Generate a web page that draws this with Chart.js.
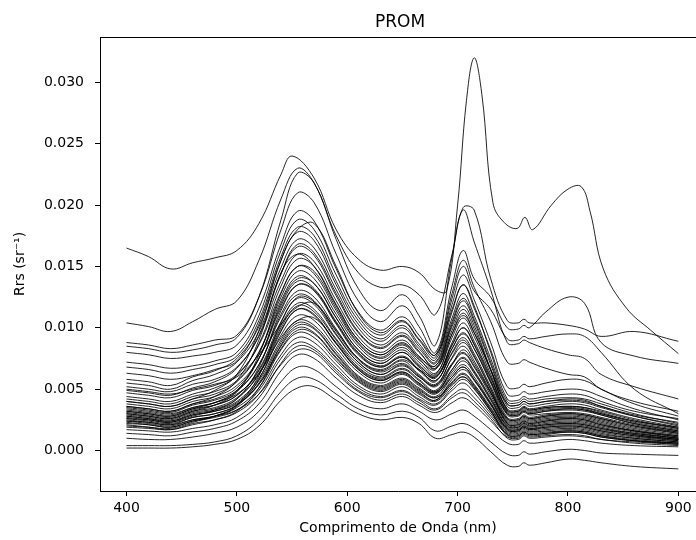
<!DOCTYPE html>
<html>
<head>
<meta charset="utf-8">
<title>PROM</title>
<script src="https://cdn.jsdelivr.net/npm/chart.js@4.4.1/dist/chart.umd.min.js"></script>
<style>
  html, body { margin: 0; padding: 0; background: #fff; overflow: hidden; }
  #wrap { width: 696px; height: 540px; }
</style>
</head>
<body>
<div id="wrap"><canvas id="rrsChart" width="696" height="540"></canvas></div>
<script>
// wavelengths (nm) shared by most spectra
const wave = [400, 420, 440, 460, 480, 500, 520, 540, 555, 570, 590, 610, 630, 650, 665, 680, 695, 705, 715, 730, 745, 755, 760, 765, 780, 800, 815, 830, 860, 900];
// finer grid for the spectrum with the big red-edge peak
const waveA = [400, 420, 440, 460, 480, 500, 520, 540, 550, 570, 590, 610, 630, 650, 665, 680, 690, 700, 708, 715, 722, 732, 742, 754, 761, 768, 785, 800, 812, 820, 832, 853, 875, 900];

const xTicks = [400, 500, 600, 700, 800, 900];
const yTicks = [0.000, 0.005, 0.010, 0.015, 0.020, 0.025, 0.030];

// Rrs spectra (sr^-1)
const rrsA = [0.0165, 0.0158, 0.0148, 0.0153, 0.0157, 0.0163, 0.0185, 0.0225, 0.0240, 0.0222, 0.0180, 0.0156, 0.0147, 0.0150, 0.0145, 0.0131, 0.0130, 0.0200, 0.0285, 0.0320, 0.0290, 0.0202, 0.0186, 0.0181, 0.0190, 0.0180, 0.0200, 0.0213, 0.0215, 0.0195, 0.0148, 0.0116, 0.0098, 0.0079];
const rrsB = [0.0104, 0.0101, 0.0097, 0.0105, 0.0115, 0.0122, 0.0155, 0.0205, 0.0230, 0.0218, 0.0175, 0.0145, 0.0133, 0.0135, 0.0127, 0.0111, 0.0160, 0.0198, 0.0196, 0.0140, 0.0106, 0.0104, 0.0107, 0.0104, 0.0104, 0.0102, 0.0099, 0.0093, 0.0097, 0.0089];
const rrsC = [0.0088, 0.0086, 0.0083, 0.0086, 0.0090, 0.0094, 0.0125, 0.0180, 0.0210, 0.0202, 0.0160, 0.0122, 0.0105, 0.0118, 0.0101, 0.0080, 0.0134, 0.0163, 0.0140, 0.0125, 0.0100, 0.0099, 0.0102, 0.0100, 0.0113, 0.0125, 0.0120, 0.0088, 0.0077, 0.0071];
const rrsD = [0.0085, 0.0083, 0.0080, 0.0082, 0.0086, 0.0092, 0.0125, 0.0188, 0.0226, 0.0218, 0.0172, 0.0132, 0.0114, 0.0127, 0.0110, 0.0086, 0.0158, 0.0196, 0.0170, 0.0131, 0.0088, 0.0087, 0.0090, 0.0088, 0.0083, 0.0078, 0.0075, 0.0062, 0.0052, 0.0042];
const rrsE = [0.0080, 0.0078, 0.0075, 0.0077, 0.0080, 0.0086, 0.0116, 0.0168, 0.0195, 0.0187, 0.0148, 0.0113, 0.0098, 0.0109, 0.0094, 0.0078, 0.0128, 0.0155, 0.0133, 0.0105, 0.0072, 0.0071, 0.0074, 0.0072, 0.0067, 0.0062, 0.0060, 0.0050, 0.0040, 0.0032];
const rrsF = [0.0072, 0.0070, 0.0067, 0.0069, 0.0073, 0.0080, 0.0110, 0.0163, 0.0188, 0.0180, 0.0143, 0.0109, 0.0094, 0.0105, 0.0090, 0.0076, 0.0124, 0.0150, 0.0130, 0.0115, 0.0091, 0.0090, 0.0093, 0.0091, 0.0093, 0.0095, 0.0093, 0.0080, 0.0050, 0.0030];
const rrsG = [0.0068, 0.0066, 0.0063, 0.0066, 0.0070, 0.0077, 0.0106, 0.0158, 0.0182, 0.0175, 0.0138, 0.0106, 0.0091, 0.0102, 0.0087, 0.0074, 0.0119, 0.0143, 0.0123, 0.0088, 0.0052, 0.0051, 0.0054, 0.0052, 0.0055, 0.0058, 0.0057, 0.0050, 0.0038, 0.0028];
const rrsH = [0.0063, 0.0061, 0.0058, 0.0061, 0.0066, 0.0073, 0.0103, 0.0155, 0.0178, 0.0171, 0.0135, 0.0103, 0.0089, 0.0100, 0.0085, 0.0072, 0.0113, 0.0135, 0.0116, 0.0082, 0.0046, 0.0045, 0.0048, 0.0046, 0.0048, 0.0050, 0.0049, 0.0044, 0.0034, 0.0025];
const rrsI1 = [0.0058, 0.0056, 0.0053, 0.0060, 0.0065, 0.0075, 0.0101, 0.0149, 0.0172, 0.0165, 0.0131, 0.0100, 0.0086, 0.0096, 0.0083, 0.0071, 0.0108, 0.0128, 0.0110, 0.0075, 0.0040, 0.0039, 0.0042, 0.0040, 0.0042, 0.0043, 0.0042, 0.0038, 0.0030, 0.0022];
const rrsI2 = [0.0055, 0.0053, 0.0050, 0.0057, 0.0062, 0.0072, 0.0097, 0.0144, 0.0166, 0.0159, 0.0126, 0.0096, 0.0083, 0.0093, 0.0080, 0.0069, 0.0105, 0.0124, 0.0107, 0.0072, 0.0038, 0.0037, 0.0040, 0.0038, 0.0040, 0.0041, 0.0040, 0.0036, 0.0028, 0.0020];
const rrsI3 = [0.0052, 0.0050, 0.0048, 0.0054, 0.0058, 0.0068, 0.0093, 0.0138, 0.0160, 0.0154, 0.0122, 0.0093, 0.0080, 0.0090, 0.0077, 0.0067, 0.0103, 0.0122, 0.0105, 0.0070, 0.0036, 0.0035, 0.0038, 0.0036, 0.0038, 0.0040, 0.0039, 0.0035, 0.0028, 0.0021];
const rrsI4 = [0.0049, 0.0047, 0.0045, 0.0051, 0.0056, 0.0067, 0.0094, 0.0144, 0.0168, 0.0161, 0.0128, 0.0097, 0.0084, 0.0094, 0.0081, 0.0067, 0.0098, 0.0115, 0.0099, 0.0066, 0.0034, 0.0033, 0.0036, 0.0034, 0.0036, 0.0038, 0.0037, 0.0033, 0.0026, 0.0019];
const rrsI5 = [0.0047, 0.0045, 0.0043, 0.0049, 0.0053, 0.0062, 0.0086, 0.0129, 0.0150, 0.0144, 0.0114, 0.0087, 0.0075, 0.0084, 0.0072, 0.0062, 0.0095, 0.0112, 0.0096, 0.0065, 0.0033, 0.0032, 0.0035, 0.0033, 0.0035, 0.0036, 0.0035, 0.0032, 0.0025, 0.0018];
const rrsI6 = [0.0044, 0.0042, 0.0040, 0.0046, 0.0051, 0.0061, 0.0087, 0.0134, 0.0156, 0.0150, 0.0119, 0.0090, 0.0078, 0.0087, 0.0075, 0.0063, 0.0092, 0.0108, 0.0093, 0.0062, 0.0031, 0.0030, 0.0033, 0.0031, 0.0033, 0.0034, 0.0033, 0.0030, 0.0023, 0.0017];
const rrsI7 = [0.0042, 0.0040, 0.0038, 0.0044, 0.0048, 0.0057, 0.0080, 0.0122, 0.0142, 0.0136, 0.0108, 0.0082, 0.0071, 0.0080, 0.0068, 0.0059, 0.0088, 0.0104, 0.0089, 0.0060, 0.0030, 0.0029, 0.0032, 0.0030, 0.0032, 0.0033, 0.0032, 0.0029, 0.0022, 0.0016];
const rrsI8 = [0.0040, 0.0038, 0.0036, 0.0042, 0.0046, 0.0056, 0.0080, 0.0125, 0.0146, 0.0140, 0.0111, 0.0085, 0.0073, 0.0082, 0.0070, 0.0060, 0.0086, 0.0100, 0.0086, 0.0057, 0.0029, 0.0028, 0.0031, 0.0029, 0.0030, 0.0031, 0.0030, 0.0027, 0.0021, 0.0015];
const rrsI9 = [0.0038, 0.0036, 0.0034, 0.0040, 0.0044, 0.0053, 0.0075, 0.0116, 0.0135, 0.0130, 0.0103, 0.0078, 0.0068, 0.0076, 0.0065, 0.0056, 0.0083, 0.0096, 0.0083, 0.0055, 0.0027, 0.0026, 0.0029, 0.0027, 0.0029, 0.0030, 0.0029, 0.0026, 0.0020, 0.0014];
const rrsI10 = [0.0036, 0.0034, 0.0032, 0.0038, 0.0042, 0.0051, 0.0075, 0.0118, 0.0138, 0.0132, 0.0105, 0.0080, 0.0069, 0.0077, 0.0066, 0.0057, 0.0080, 0.0092, 0.0079, 0.0052, 0.0026, 0.0025, 0.0028, 0.0026, 0.0028, 0.0029, 0.0028, 0.0025, 0.0019, 0.0014];
const rrsI11 = [0.0035, 0.0033, 0.0031, 0.0037, 0.0041, 0.0049, 0.0070, 0.0109, 0.0127, 0.0122, 0.0097, 0.0074, 0.0064, 0.0071, 0.0061, 0.0053, 0.0076, 0.0088, 0.0076, 0.0050, 0.0025, 0.0024, 0.0027, 0.0025, 0.0027, 0.0028, 0.0027, 0.0024, 0.0018, 0.0013];
const rrsI12 = [0.0033, 0.0031, 0.0029, 0.0035, 0.0039, 0.0048, 0.0070, 0.0111, 0.0130, 0.0125, 0.0099, 0.0075, 0.0065, 0.0073, 0.0062, 0.0054, 0.0075, 0.0085, 0.0073, 0.0048, 0.0024, 0.0023, 0.0026, 0.0024, 0.0026, 0.0027, 0.0026, 0.0023, 0.0017, 0.0012];
const rrsI13 = [0.0032, 0.0030, 0.0028, 0.0034, 0.0037, 0.0045, 0.0065, 0.0102, 0.0120, 0.0115, 0.0091, 0.0070, 0.0060, 0.0067, 0.0058, 0.0049, 0.0070, 0.0082, 0.0071, 0.0047, 0.0023, 0.0022, 0.0025, 0.0023, 0.0025, 0.0026, 0.0025, 0.0022, 0.0016, 0.0011];
const rrsI14 = [0.0031, 0.0029, 0.0027, 0.0033, 0.0037, 0.0045, 0.0066, 0.0105, 0.0124, 0.0119, 0.0094, 0.0072, 0.0062, 0.0069, 0.0060, 0.0052, 0.0070, 0.0079, 0.0068, 0.0045, 0.0022, 0.0021, 0.0024, 0.0022, 0.0024, 0.0025, 0.0024, 0.0021, 0.0016, 0.0011];
const rrsI15 = [0.0030, 0.0028, 0.0026, 0.0032, 0.0035, 0.0043, 0.0062, 0.0098, 0.0115, 0.0110, 0.0087, 0.0067, 0.0058, 0.0064, 0.0055, 0.0047, 0.0066, 0.0076, 0.0065, 0.0043, 0.0021, 0.0020, 0.0023, 0.0021, 0.0023, 0.0024, 0.0023, 0.0020, 0.0015, 0.0010];
const rrsI16 = [0.0029, 0.0027, 0.0025, 0.0031, 0.0034, 0.0042, 0.0063, 0.0100, 0.0118, 0.0113, 0.0090, 0.0068, 0.0059, 0.0066, 0.0057, 0.0048, 0.0064, 0.0073, 0.0063, 0.0041, 0.0020, 0.0019, 0.0022, 0.0020, 0.0022, 0.0023, 0.0022, 0.0019, 0.0014, 0.0010];
const rrsI17 = [0.0028, 0.0026, 0.0024, 0.0030, 0.0033, 0.0040, 0.0059, 0.0094, 0.0110, 0.0106, 0.0084, 0.0064, 0.0055, 0.0062, 0.0053, 0.0046, 0.0062, 0.0070, 0.0060, 0.0039, 0.0019, 0.0018, 0.0021, 0.0019, 0.0021, 0.0022, 0.0021, 0.0018, 0.0013, 0.0009];
const rrsI18 = [0.0027, 0.0025, 0.0023, 0.0029, 0.0032, 0.0039, 0.0057, 0.0090, 0.0106, 0.0102, 0.0081, 0.0061, 0.0053, 0.0059, 0.0051, 0.0044, 0.0060, 0.0068, 0.0058, 0.0038, 0.0018, 0.0017, 0.0020, 0.0018, 0.0020, 0.0021, 0.0020, 0.0017, 0.0013, 0.0009];
const rrsI19 = [0.0026, 0.0024, 0.0022, 0.0027, 0.0030, 0.0037, 0.0054, 0.0085, 0.0100, 0.0096, 0.0076, 0.0058, 0.0050, 0.0056, 0.0048, 0.0041, 0.0058, 0.0066, 0.0057, 0.0037, 0.0018, 0.0017, 0.0020, 0.0018, 0.0019, 0.0020, 0.0019, 0.0016, 0.0012, 0.0008];
const rrsI20 = [0.0025, 0.0023, 0.0021, 0.0027, 0.0030, 0.0037, 0.0055, 0.0088, 0.0104, 0.0100, 0.0079, 0.0060, 0.0052, 0.0058, 0.0050, 0.0043, 0.0056, 0.0063, 0.0054, 0.0035, 0.0017, 0.0016, 0.0019, 0.0017, 0.0018, 0.0019, 0.0018, 0.0015, 0.0011, 0.0008];
const rrsI21 = [0.0024, 0.0022, 0.0020, 0.0025, 0.0028, 0.0035, 0.0051, 0.0082, 0.0096, 0.0092, 0.0073, 0.0056, 0.0048, 0.0054, 0.0046, 0.0040, 0.0053, 0.0060, 0.0052, 0.0034, 0.0016, 0.0015, 0.0018, 0.0016, 0.0017, 0.0018, 0.0017, 0.0014, 0.0010, 0.0007];
const rrsI22 = [0.0023, 0.0021, 0.0019, 0.0024, 0.0027, 0.0033, 0.0049, 0.0078, 0.0092, 0.0088, 0.0070, 0.0053, 0.0046, 0.0052, 0.0044, 0.0038, 0.0051, 0.0058, 0.0050, 0.0032, 0.0015, 0.0014, 0.0017, 0.0015, 0.0016, 0.0017, 0.0016, 0.0013, 0.0010, 0.0007];
const rrsI23 = [0.0021, 0.0019, 0.0017, 0.0022, 0.0025, 0.0031, 0.0046, 0.0075, 0.0088, 0.0084, 0.0067, 0.0051, 0.0044, 0.0049, 0.0042, 0.0037, 0.0049, 0.0055, 0.0047, 0.0030, 0.0014, 0.0013, 0.0016, 0.0014, 0.0015, 0.0016, 0.0015, 0.0012, 0.0009, 0.0006];
const rrsJ1 = [0.0050, 0.0048, 0.0046, 0.0050, 0.0054, 0.0060, 0.0078, 0.0103, 0.0117, 0.0120, 0.0098, 0.0075, 0.0066, 0.0074, 0.0066, 0.0060, 0.0083, 0.0095, 0.0083, 0.0056, 0.0030, 0.0029, 0.0032, 0.0030, 0.0032, 0.0034, 0.0033, 0.0029, 0.0022, 0.0016];
const rrsJ2 = [0.0036, 0.0034, 0.0032, 0.0038, 0.0044, 0.0057, 0.0090, 0.0145, 0.0160, 0.0150, 0.0118, 0.0090, 0.0078, 0.0088, 0.0076, 0.0069, 0.0101, 0.0118, 0.0102, 0.0066, 0.0033, 0.0032, 0.0035, 0.0033, 0.0035, 0.0036, 0.0035, 0.0031, 0.0024, 0.0018];
const rrsJ3 = [0.0030, 0.0028, 0.0026, 0.0032, 0.0037, 0.0048, 0.0078, 0.0128, 0.0150, 0.0146, 0.0116, 0.0088, 0.0076, 0.0086, 0.0074, 0.0066, 0.0095, 0.0110, 0.0096, 0.0066, 0.0038, 0.0037, 0.0040, 0.0038, 0.0040, 0.0042, 0.0041, 0.0036, 0.0029, 0.0023];
const rrsJ4 = [0.0026, 0.0025, 0.0023, 0.0028, 0.0033, 0.0042, 0.0068, 0.0114, 0.0135, 0.0131, 0.0104, 0.0079, 0.0068, 0.0076, 0.0066, 0.0057, 0.0079, 0.0090, 0.0077, 0.0050, 0.0022, 0.0021, 0.0024, 0.0022, 0.0024, 0.0026, 0.0025, 0.0021, 0.0016, 0.0012];
const rrsJ5 = [0.0034, 0.0032, 0.0030, 0.0035, 0.0039, 0.0046, 0.0063, 0.0092, 0.0106, 0.0108, 0.0088, 0.0066, 0.0057, 0.0064, 0.0055, 0.0048, 0.0066, 0.0075, 0.0064, 0.0042, 0.0020, 0.0019, 0.0022, 0.0020, 0.0021, 0.0022, 0.0021, 0.0018, 0.0014, 0.0010];
const rrsJ6 = [0.0022, 0.0021, 0.0019, 0.0024, 0.0028, 0.0036, 0.0058, 0.0097, 0.0115, 0.0111, 0.0087, 0.0066, 0.0057, 0.0063, 0.0054, 0.0047, 0.0060, 0.0068, 0.0058, 0.0038, 0.0017, 0.0016, 0.0019, 0.0017, 0.0019, 0.0020, 0.0019, 0.0016, 0.0012, 0.0009];
const rrsJ7 = [0.0028, 0.0026, 0.0024, 0.0029, 0.0032, 0.0038, 0.0054, 0.0083, 0.0098, 0.0095, 0.0075, 0.0057, 0.0049, 0.0055, 0.0047, 0.0041, 0.0055, 0.0062, 0.0053, 0.0033, 0.0013, 0.0012, 0.0015, 0.0013, 0.0014, 0.0016, 0.0015, 0.0012, 0.0008, 0.0005];
const rrsJ8 = [0.0020, 0.0019, 0.0018, 0.0023, 0.0028, 0.0037, 0.0061, 0.0104, 0.0125, 0.0121, 0.0095, 0.0072, 0.0062, 0.0070, 0.0060, 0.0053, 0.0071, 0.0080, 0.0069, 0.0047, 0.0026, 0.0025, 0.0028, 0.0026, 0.0028, 0.0030, 0.0029, 0.0026, 0.0020, 0.0015];
const rrsJ9 = [0.0040, 0.0038, 0.0036, 0.0042, 0.0049, 0.0062, 0.0098, 0.0155, 0.0180, 0.0185, 0.0150, 0.0112, 0.0096, 0.0106, 0.0091, 0.0078, 0.0115, 0.0135, 0.0118, 0.0080, 0.0042, 0.0041, 0.0044, 0.0042, 0.0044, 0.0046, 0.0045, 0.0040, 0.0032, 0.0026];
const rrsJ10 = [0.0024, 0.0023, 0.0021, 0.0025, 0.0028, 0.0033, 0.0046, 0.0070, 0.0082, 0.0080, 0.0063, 0.0048, 0.0041, 0.0046, 0.0039, 0.0033, 0.0043, 0.0047, 0.0040, 0.0026, 0.0010, 0.0009, 0.0012, 0.0010, 0.0011, 0.0012, 0.0011, 0.0009, 0.0006, 0.0004];
const rrsJ11 = [0.0032, 0.0030, 0.0028, 0.0034, 0.0039, 0.0049, 0.0075, 0.0120, 0.0140, 0.0136, 0.0108, 0.0082, 0.0071, 0.0080, 0.0069, 0.0061, 0.0086, 0.0100, 0.0087, 0.0059, 0.0032, 0.0031, 0.0034, 0.0032, 0.0034, 0.0035, 0.0034, 0.0030, 0.0024, 0.0019];
const rrsJ12 = [0.0019, 0.0018, 0.0017, 0.0021, 0.0025, 0.0032, 0.0051, 0.0086, 0.0102, 0.0099, 0.0078, 0.0059, 0.0051, 0.0057, 0.0049, 0.0043, 0.0054, 0.0060, 0.0051, 0.0032, 0.0012, 0.0011, 0.0014, 0.0012, 0.0013, 0.0015, 0.0014, 0.0011, 0.0008, 0.0006];
const rrsL1 = [0.0017, 0.0016, 0.0015, 0.0018, 0.0021, 0.0027, 0.0043, 0.0071, 0.0085, 0.0082, 0.0065, 0.0049, 0.0043, 0.0048, 0.0041, 0.0034, 0.0045, 0.0050, 0.0043, 0.0028, 0.0013, 0.0012, 0.0015, 0.0013, 0.0014, 0.0015, 0.0014, 0.0011, 0.0008, 0.0006];
const rrsL2 = [0.0014, 0.0013, 0.0012, 0.0015, 0.0018, 0.0024, 0.0038, 0.0065, 0.0078, 0.0075, 0.0059, 0.0045, 0.0039, 0.0044, 0.0037, 0.0031, 0.0039, 0.0043, 0.0037, 0.0024, 0.0011, 0.0010, 0.0013, 0.0011, 0.0012, 0.0013, 0.0012, 0.0009, 0.0007, 0.0005];
const rrsL3 = [0.0010, 0.0009, 0.0009, 0.0011, 0.0014, 0.0019, 0.0032, 0.0056, 0.0068, 0.0066, 0.0052, 0.0039, 0.0034, 0.0038, 0.0032, 0.0025, 0.0030, 0.0033, 0.0028, 0.0017, 0.0006, 0.0005, 0.0008, 0.0006, 0.0007, 0.0009, 0.0008, 0.0006, 0.0004, 0.0003];
const rrsL4 = [0.0004, 0.0004, 0.0004, 0.0005, 0.0007, 0.0012, 0.0025, 0.0048, 0.0059, 0.0058, 0.0046, 0.0034, 0.0029, 0.0032, 0.0027, 0.0016, 0.0020, 0.0022, 0.0018, 0.0007, -0.0003, -0.0004, -0.0001, -0.0003, -0.0001, 0.0001, 0.0000, -0.0002, -0.0003, -0.0004];
const rrsL5 = [0.0002, 0.0002, 0.0002, 0.0003, 0.0005, 0.0009, 0.0020, 0.0041, 0.0051, 0.0052, 0.0041, 0.0030, 0.0025, 0.0027, 0.0022, 0.0010, 0.0013, 0.0015, 0.0011, -0.0001, -0.0012, -0.0013, -0.0010, -0.0012, -0.0010, -0.0007, -0.0008, -0.0010, -0.0013, -0.0015];

const curves = [
  [waveA, rrsA], [wave, rrsB], [wave, rrsC], [wave, rrsD], [wave, rrsE], [wave, rrsF], [wave, rrsG], [wave, rrsH],
  [wave, rrsI1], [wave, rrsI2], [wave, rrsI3], [wave, rrsI4], [wave, rrsI5], [wave, rrsI6], [wave, rrsI7], [wave, rrsI8],
  [wave, rrsI9], [wave, rrsI10], [wave, rrsI11], [wave, rrsI12], [wave, rrsI13], [wave, rrsI14], [wave, rrsI15], [wave, rrsI16],
  [wave, rrsI17], [wave, rrsI18], [wave, rrsI19], [wave, rrsI20], [wave, rrsI21], [wave, rrsI22], [wave, rrsI23],
  [wave, rrsJ1], [wave, rrsJ2], [wave, rrsJ3], [wave, rrsJ4], [wave, rrsJ5], [wave, rrsJ6], [wave, rrsJ7], [wave, rrsJ8],
  [wave, rrsJ9], [wave, rrsJ10], [wave, rrsJ11], [wave, rrsJ12],
  [wave, rrsL1], [wave, rrsL2], [wave, rrsL3], [wave, rrsL4], [wave, rrsL5]
];

const chartTitle = 'PROM';

Chart.defaults.font.family = '"DejaVu Sans", sans-serif';
Chart.defaults.color = '#000';

// top spine + title centred over the axes (matplotlib style)
const frameTop = {
  id: 'frameTop',
  afterDraw(chart) {
    const { ctx, chartArea: a } = chart;
    ctx.save();
    ctx.strokeStyle = '#000';
    ctx.lineWidth = 1;
    ctx.beginPath();
    ctx.moveTo(a.left, a.top + 0.5);
    ctx.lineTo(a.right, a.top + 0.5);
    ctx.stroke();
    ctx.fillStyle = '#000';
    ctx.font = '17px "DejaVu Sans"';
    ctx.textAlign = 'center';
    ctx.textBaseline = 'alphabetic';
    ctx.fillText(chartTitle, 400, 27);
    ctx.restore();
  }
};

const ctx = document.getElementById('rrsChart').getContext('2d');
new Chart(ctx, {
  type: 'line',
  data: {
    datasets: curves.map(([xs, ys]) => ({
      data: xs.map((x, i) => ({ x: x, y: ys[i] })),
      borderColor: 'rgba(0, 0, 0, 0.85)',
      borderWidth: 1,
      pointRadius: 0,
      fill: false,
      tension: 0.4
    }))
  },
  options: {
    responsive: false,
    animation: false,
    layout: { padding: { top: 37, right: 0, bottom: 0, left: 0 } },
    plugins: {
      legend: { display: false },
      tooltip: { enabled: false },
      title: { display: false }
    },
    scales: {
      x: {
        type: 'linear',
        min: 376,
        max: 916,
        afterFit: (s) => { s.height = 49; },
        afterBuildTicks: (s) => { s.ticks = xTicks.map(v => ({ value: v })); },
        grid: { drawOnChartArea: false, drawTicks: true, tickLength: 5, tickColor: '#000' },
        border: { display: true, color: '#000', width: 1 },
        ticks: { padding: 4, color: '#000', font: { size: 14 }, maxRotation: 0, callback: (v) => String(v) },
        title: {
          display: true,
          text: 'Comprimento de Onda (nm)',
          color: '#000',
          font: { size: 14 },
          padding: { top: 0, bottom: 3 }
        }
      },
      y: {
        type: 'linear',
        min: -0.0033,
        max: 0.0337,
        afterFit: (s) => { s.width = 100; },
        afterBuildTicks: (s) => { s.ticks = yTicks.map(v => ({ value: v })); },
        grid: { drawOnChartArea: false, drawTicks: true, tickLength: 5, tickColor: '#000' },
        border: { display: true, color: '#000', width: 1 },
        ticks: { padding: 11, color: '#000', font: { size: 14 }, callback: (v) => v.toFixed(3) },
        title: {
          display: true,
          text: 'Rrs (sr⁻¹)',
          color: '#000',
          font: { size: 14 },
          padding: { top: 12, bottom: 0 }
        }
      }
    }
  },
  plugins: [frameTop]
});
</script>
</body>
</html>
